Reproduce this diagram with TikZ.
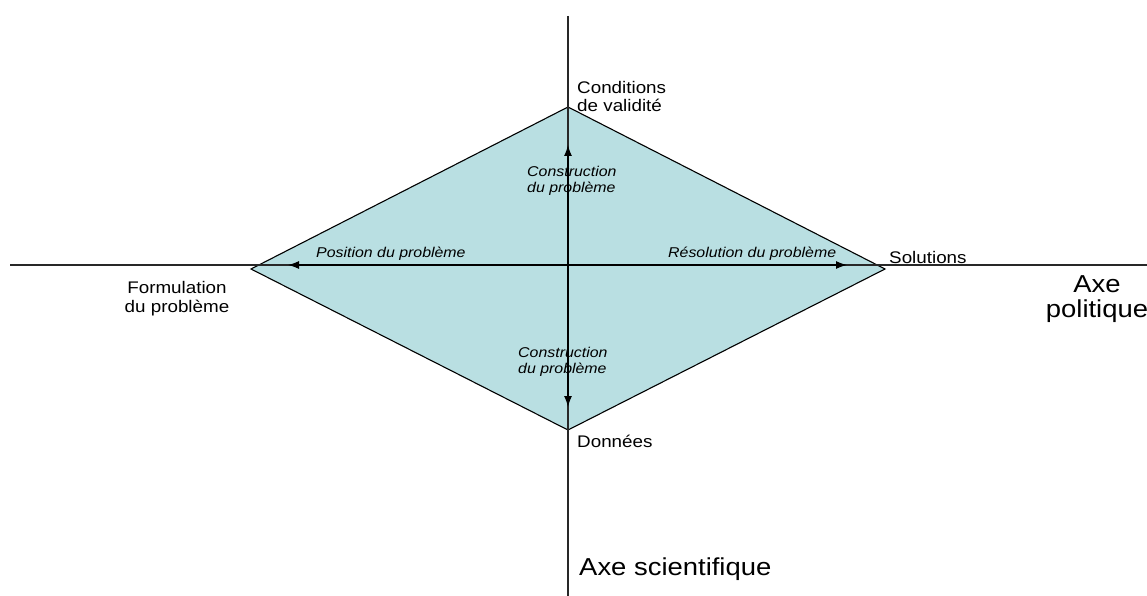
\documentclass[tikz,border=0pt]{standalone}
\usepackage{fontspec}
\setmainfont{Liberation Sans}[FakeStretch=1.12]
\usetikzlibrary{arrows.meta}
\definecolor{fillblue}{RGB}{185,223,226}
\definecolor{axisgray}{RGB}{40,40,40}
\tikzset{
  axisline/.style={draw=axisgray, line width=1.1pt},
  edge/.style={draw=black, line width=1.1pt},
  arr/.style={draw=black, line width=1.1pt, -{Latex[length=11pt,width=8pt]}},
  lbl/.style={inner sep=0pt, font=\fontsize{16.8}{18.5}\selectfont, align=left},
  ilbl/.style={inner sep=0pt, font=\fontsize{14.2}{16}\selectfont\itshape, align=left},
  big/.style={inner sep=0pt, font=\fontsize{24.5}{25}\selectfont, align=center},
}
\begin{document}
\begin{tikzpicture}[x=1pt,y=-1pt]
\useasboundingbox (0,0) rectangle (1147,596);
% vertices
\coordinate (T) at (568,107);
\coordinate (L) at (251,269);
\coordinate (R) at (885,269);
\coordinate (B) at (568,430);
\coordinate (C) at (568,265);
\coordinate (axL) at (10,265);
\coordinate (axR) at (1147,265);
\coordinate (axT) at (568,16);
\coordinate (axB) at (568,596);
\coordinate (aL) at (288,265);
\coordinate (aR) at (847,265);
\coordinate (aT) at (568,145);
\coordinate (aB) at (568,407);
% diamond
\path[fill=fillblue] (T) -- (R) -- (B) -- (L) -- cycle;
\draw[edge] (T) -- (R) -- (B) -- (L) -- cycle;
% axes
\draw[axisline] (axL) -- (axR);
\draw[axisline] (axT) -- (axB);
% arrows
\draw[arr] (C) -- (aL);
\draw[arr] (C) -- (aR);
\draw[arr] (C) -- (aT);
\draw[arr] (C) -- (aB);
% labels (multi-line nodes: base = baseline of last line)
\node[lbl, anchor=base west] (cond) at (577,112) {Conditions\\de validité};
\node[lbl, anchor=base west] (sol) at (889,263) {Solutions};
\node[lbl, anchor=base west] (don) at (577,447) {Données};
\node[lbl, anchor=base, align=center] (form) at (177,312) {Formulation\\du problème};
\node[ilbl, anchor=base west] (pos) at (316,257) {Position du problème};
\node[ilbl, anchor=base west] (res) at (668,257) {Résolution du problème};
\node[ilbl, anchor=base west] (ct) at (527,192) {Construction\\du problème};
\node[ilbl, anchor=base west] (cb) at (518,373) {Construction\\du problème};
\node[big, anchor=base] (axp) at (1097,317) {Axe\\politique};
\node[big, anchor=base west] (axs) at (579,575) {Axe scientifique};
\end{tikzpicture}
\end{document}
